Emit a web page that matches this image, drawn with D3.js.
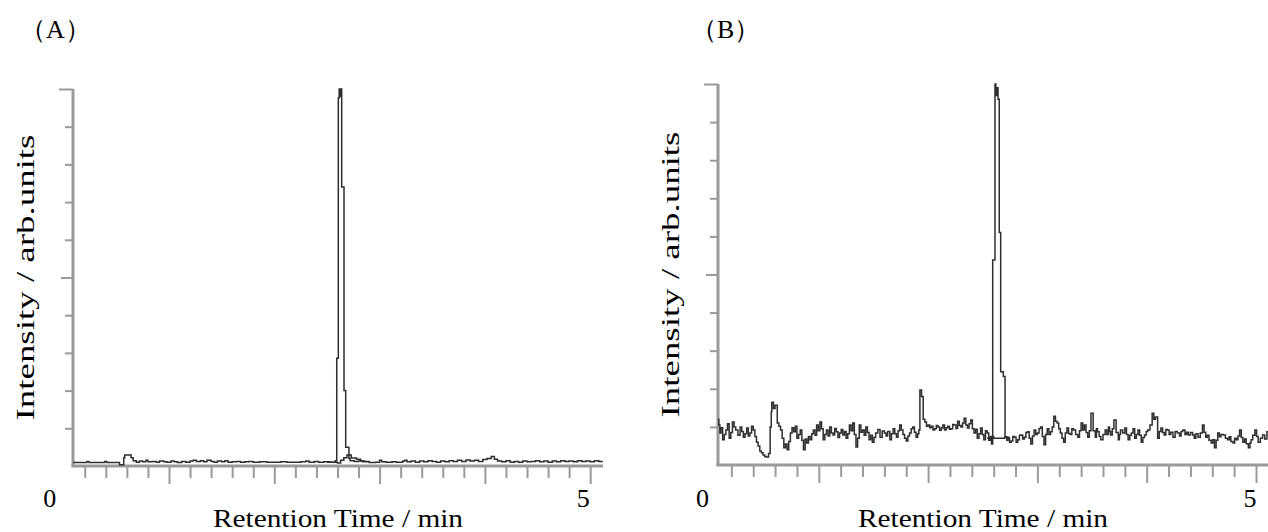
<!DOCTYPE html>
<html>
<head>
<meta charset="utf-8">
<script src="https://cdn.jsdelivr.net/npm/d3@7"></script>
<style>
  body { margin: 0; background: #fff; }
  svg { display: block; }
</style>
</head>
<body>
<div id="chart"></div>
<script>
const panelNames = ["（A）", "（B）"];
const xTitle = "Retention Time / min";
const yTitle = "Intensity / arb.units";
const endLabels = ["0", "5"];

// panel A, main trace: [retention time (min), intensity]
const traceA = [
  [0.09,0.9],[0.20,0.9],[0.22,1.2],[0.24,0.9],[0.37,0.9],[0.39,1.2],[0.41,0.9],[0.52,0.9],
  [0.53,0.3],[0.56,0.3],[0.57,2.2],[0.58,2.9],[0.63,2.9],[0.64,2.2],[0.66,1.4],[0.69,1.0],
  [0.72,1.3],[0.75,1.1],[0.78,1.5],[0.80,1.1],[0.84,1.2],[0.88,1.0],[0.91,1.3],[0.95,1.1],
  [0.98,1.0],[1.02,1.3],[1.05,1.1],[1.08,0.9],[1.12,1.2],[1.16,1.0],[1.20,1.3],[1.23,1.5],
  [1.26,1.2],[1.30,1.4],[1.33,1.1],[1.36,1.5],[1.40,1.2],[1.43,1.0],[1.46,1.3],[1.50,1.1],
  [1.53,1.4],[1.56,1.0],[1.60,1.1],[1.64,1.2],[1.68,1.0],[1.72,1.1],[1.76,1.2],[1.80,1.0],
  [1.86,1.1],[1.93,1.0],[2.00,1.0],[2.06,1.1],[2.12,1.0],[2.18,1.0],[2.25,1.1],[2.30,1.3],
  [2.33,1.0],[2.38,1.2],[2.42,1.0],[2.47,1.1],[2.52,1.0],[2.57,1.0],[2.58,1.4],
  [2.593,28.6],[2.608,97.6],[2.616,100],[2.624,98],[2.632,100],[2.640,74],[2.662,20],
  [2.678,5],[2.709,2],[2.72,1.4],[2.76,1.2],[2.80,1.3],[2.84,1.1],[2.88,1.2],[2.90,0.9],
  [2.96,1.0],[3.00,1.5],[3.02,1.1],[3.06,1.0],[3.12,1.1],[3.16,1.0],[3.22,1.3],[3.24,1.5],
  [3.26,1.1],[3.30,1.3],[3.34,1.0],[3.38,1.3],[3.42,1.1],[3.46,1.4],[3.50,1.2],[3.54,1.0],
  [3.58,1.3],[3.62,1.1],[3.66,1.4],[3.70,1.2],[3.74,1.5],[3.78,1.2],[3.82,1.6],[3.86,1.3],
  [3.90,1.5],[3.94,1.2],[3.98,1.7],[4.02,2.0],[4.06,2.5],[4.09,1.8],[4.12,1.3],[4.16,1.1],
  [4.20,1.4],[4.24,1.0],[4.28,1.2],[4.32,1.0],[4.36,1.3],[4.40,1.1],[4.44,1.2],[4.48,1.4],
  [4.52,1.1],[4.56,1.3],[4.60,1.0],[4.64,1.3],[4.68,1.1],[4.72,1.4],[4.76,1.2],[4.80,1.3],
  [4.84,1.1],[4.88,1.4],[4.92,1.2],[4.96,1.3],[5.00,1.1],[5.04,1.4],[5.08,1.2],[5.12,1.2]
];

// panel A, second trace under the peak
const traceA2 = [
  [2.50,1.0],[2.58,1.0],[2.60,0.8],[2.63,1.5],[2.66,2.2],[2.69,2.9],[2.71,2.9],
  [2.73,2.1],[2.78,1.8],[2.82,1.3],[2.86,1.1]
];

// panel B, main trace
const traceB = [
  [0.07,12],[0.085,10.5],[0.095,8.4],[0.105,9.8],[0.12,6.6],[0.135,8],[0.15,9.2],[0.165,10.8],
  [0.18,7],[0.195,8.5],[0.21,11.3],[0.225,10],[0.24,9.2],[0.26,7.8],[0.28,10],[0.295,8.8],
  [0.31,7.3],[0.325,8.2],[0.34,9.7],[0.355,7.6],[0.37,8.4],[0.385,10.2],[0.40,9.2],[0.415,7.5],
  [0.43,6],[0.445,5],[0.46,3.7],[0.475,3.2],[0.49,2.6],[0.505,2.2],[0.52,2.1],[0.54,3],
  [0.555,10],[0.565,14],[0.57,16.5],[0.585,14.8],[0.60,15.7],[0.62,11],[0.635,10.2],[0.65,9.2],
  [0.665,7],[0.68,4.5],[0.695,5.5],[0.71,4],[0.725,6.2],[0.74,8.4],[0.755,9.8],[0.77,8.7],
  [0.785,10.2],[0.80,7],[0.815,8],[0.83,9.2],[0.845,6.5],[0.86,4],[0.875,6.8],[0.89,5.8],
  [0.905,7.5],[0.92,6.6],[0.935,8.2],[0.95,9.2],[0.965,7.8],[0.98,10.5],[0.995,9],[1.01,11.3],
  [1.025,9.5],[1.04,6.6],[1.055,8],[1.07,9.2],[1.085,7.6],[1.10,10],[1.115,8.4],[1.13,7.9],
  [1.145,9.6],[1.16,8.7],[1.175,7.2],[1.19,8.4],[1.205,9.3],[1.22,7.9],[1.235,8.8],[1.25,7],
  [1.265,8.2],[1.28,10.5],[1.295,9],[1.31,11],[1.325,8],[1.34,4.7],[1.355,7],[1.37,10.5],
  [1.385,8.6],[1.40,9.2],[1.415,7.8],[1.43,10],[1.445,8.5],[1.46,6.6],[1.475,7.8],[1.49,6],
  [1.505,7.2],[1.52,8.4],[1.54,9.3],[1.56,7.3],[1.58,8.9],[1.60,8.4],[1.615,7.6],[1.63,8.8],
  [1.65,6.6],[1.665,8.2],[1.68,9.5],[1.695,8.2],[1.71,7.3],[1.725,9],[1.74,10.5],[1.755,9.2],
  [1.77,8],[1.785,7],[1.80,6.3],[1.815,7.6],[1.83,8.4],[1.845,9.5],[1.86,10],[1.875,8.6],
  [1.89,7.3],[1.905,8.2],[1.915,9.2],[1.925,19.7],[1.94,18],[1.955,12],[1.97,11.3],[1.985,10.2],
  [2.00,10.5],[2.015,9.8],[2.03,10.2],[2.045,9.2],[2.06,9.5],[2.075,10.4],[2.09,10],[2.105,9.1],
  [2.12,9.7],[2.135,10.5],[2.15,9.2],[2.165,9.8],[2.18,10.2],[2.195,9.4],[2.21,9.5],[2.225,10.6],
  [2.24,10.5],[2.255,9.6],[2.27,11.5],[2.285,10.4],[2.30,10],[2.315,11],[2.33,12.3],[2.345,10.5],
  [2.36,9.7],[2.375,10.8],[2.39,11.8],[2.405,9.5],[2.42,8.4],[2.435,9.4],[2.45,7],[2.465,8.2],
  [2.48,9.7],[2.495,8],[2.51,6.6],[2.525,9],[2.54,8.4],[2.555,6.5],[2.57,7.3],[2.58,5.5],
  [2.591,53.8],[2.612,100],[2.62,97],[2.63,99],[2.640,96],[2.651,61],[2.664,24.5],
  [2.688,23.2],[2.704,7.4],[2.72,6.5],[2.73,7],[2.745,6],[2.76,6.3],[2.775,7.5],[2.79,7.3],
  [2.805,6],[2.82,6.6],[2.835,7.8],[2.85,7.9],[2.865,6.8],[2.88,7.3],[2.895,8.5],[2.91,8.7],
  [2.925,7],[2.94,5.5],[2.955,7.6],[2.97,9.2],[2.985,8],[3.00,8.4],[3.015,9.6],[3.03,10],
  [3.045,7.5],[3.06,5.3],[3.075,8],[3.09,9.5],[3.105,8],[3.12,8.7],[3.135,10],[3.15,12.8],
  [3.165,11.5],[3.18,11],[3.195,9.5],[3.21,8.4],[3.225,7],[3.24,6],[3.255,8.4],[3.27,9.7],
  [3.285,8.3],[3.30,8],[3.315,9.5],[3.33,9.2],[3.35,8],[3.37,7.3],[3.385,9],[3.40,11],
  [3.415,9.2],[3.43,10.5],[3.445,8.5],[3.46,7.3],[3.475,9],[3.49,13.6],[3.51,9],[3.53,7.3],
  [3.54,9.5],[3.55,8.7],[3.565,7.5],[3.58,6.6],[3.60,8],[3.62,9.2],[3.635,8],[3.65,10],
  [3.66,8.8],[3.67,7.9],[3.685,9.5],[3.70,11.8],[3.72,8.5],[3.74,6.6],[3.75,8],[3.76,9.2],
  [3.78,8.4],[3.80,9.7],[3.815,8],[3.83,6.6],[3.845,7.8],[3.86,8.4],[3.875,9.5],[3.89,7],
  [3.905,8],[3.92,9.2],[3.935,7.8],[3.95,6],[3.965,7.2],[3.98,7.9],[3.995,8.8],[4.01,9.2],
  [4.03,10.5],[4.05,13.6],[4.065,12],[4.08,12.6],[4.10,7],[4.115,8.8],[4.13,9.7],[4.145,8.5],
  [4.16,7.9],[4.175,9.3],[4.19,9.2],[4.205,8],[4.22,8.6],[4.24,7.3],[4.26,8.8],[4.28,8.4],
  [4.30,7.6],[4.315,8.8],[4.33,9.2],[4.35,8],[4.365,8.6],[4.38,7.9],[4.40,8.5],[4.42,7.9],
  [4.435,7],[4.45,8.2],[4.47,7.3],[4.49,8.4],[4.51,10.5],[4.525,8.6],[4.54,7.3],[4.555,7.8],
  [4.57,6.5],[4.59,5.8],[4.605,6.6],[4.62,4.5],[4.635,6.5],[4.65,8.4],[4.665,7.4],[4.68,8],
  [4.70,7.9],[4.72,7],[4.74,6.6],[4.755,7.4],[4.77,6.2],[4.79,5.8],[4.805,7],[4.82,6.6],
  [4.835,7.6],[4.85,9.2],[4.865,7.2],[4.88,6],[4.895,6.8],[4.91,5.6],[4.93,4.5],[4.945,5.8],
  [4.955,6.6],[4.97,7.8],[4.99,9.2],[5.005,7.5],[5.02,6],[5.04,7],[5.06,7.9],[5.08,6.8],
  [5.10,8.7],[5.12,8.7]
];

// panel B, second trace under the peak
const traceB2 = [
  [2.54,7],[2.57,7.5],[2.60,7],[2.66,7],[2.70,7.3],[2.74,7]
];

let w = 1268;
let h = 532;
let font = "'Liberation Serif', 'Times New Roman', serif";
let axisColor = "#9a9a9a";
let lineColor = "#2e2e2e";

let svg = d3.select("#chart")
  .append("svg")
  .attr("width", w)
  .attr("height", h)
  .style("background-color", "#fff");

// minor x ticks every 0.2 min, major every minute
let xMinor = d3.range(1, 26).map(i => +(i * 0.2).toFixed(1)).filter(v => v % 1 !== 0);
let xMajor = [1, 2, 3, 4, 5];

function drawPanel(p) {
  let x = d3.scaleLinear().domain([0, 5]).range([p.x0, p.x5]);
  let y = d3.scaleLinear().domain([0, 100]).range([p.yBottom, p.yTop]);

  let g = svg.append("g").attr("class", "panel" + p.id);

  // clip so the traces stop at the axes
  svg.append("clipPath").attr("id", "clip" + p.id)
    .append("rect")
    .attr("x", p.axisX)
    .attr("y", p.yTop - 3)
    .attr("width", p.axisEnd - p.axisX)
    .attr("height", p.yBottom - p.yTop + 3);

  // x ticks
  let xMinorAxis = g.append("g")
    .attr("transform", `translate(0,${p.yBottom})`)
    .call(d3.axisBottom(x).tickValues(xMinor).tickSize(12).tickFormat(""));
  let xMajorAxis = g.append("g")
    .attr("transform", `translate(0,${p.yBottom})`)
    .call(d3.axisBottom(x).tickValues(xMajor).tickSize(18).tickFormat(""));

  // y ticks
  let yMinorAxis = g.append("g")
    .attr("transform", `translate(${p.axisX},0)`)
    .call(d3.axisLeft(y).tickValues([10, 20, 30, 40, 60, 70, 80, 90]).tickSize(8).tickFormat(""));
  let yMajorAxis = g.append("g")
    .attr("transform", `translate(${p.axisX},0)`)
    .call(d3.axisLeft(y).tickValues([50]).tickSize(12).tickFormat(""));
  let yTopAxis = g.append("g")
    .attr("transform", `translate(${p.axisX},0)`)
    .call(d3.axisLeft(y).tickValues([100]).tickSize(14).tickFormat(""));

  [xMinorAxis, xMajorAxis, yMinorAxis, yMajorAxis, yTopAxis].forEach(a => {
    a.select(".domain").remove();
    a.selectAll(".tick line").attr("stroke", axisColor).attr("stroke-width", 2);
  });

  // axis lines
  g.append("line")
    .attr("x1", p.axisX).attr("x2", p.axisX)
    .attr("y1", y(100)).attr("y2", p.yBottom + 1)
    .attr("stroke", axisColor).attr("stroke-width", 3);
  g.append("line")
    .attr("x1", p.axisX - 1.5).attr("x2", p.axisEnd)
    .attr("y1", p.yBottom).attr("y2", p.yBottom)
    .attr("stroke", axisColor).attr("stroke-width", 3);

  // traces
  let line = d3.line()
    .x(d => x(d[0]))
    .y(d => y(d[1]))
    .curve(d3.curveStepAfter);

  g.selectAll(".trace")
    .data([p.second, p.main])
    .enter()
    .append("path")
    .attr("class", "trace")
    .attr("clip-path", `url(#clip${p.id})`)
    .attr("fill", "none")
    .attr("stroke", lineColor)
    .attr("stroke-width", 1.5)
    .attr("d", line);

  // labels
  g.append("text")
    .attr("x", p.nameX)
    .attr("y", 38)
    .attr("font-family", font)
    .attr("font-size", 26)
    .attr("fill", "#000")
    .text(p.name);

  g.selectAll(".endlabel")
    .data(endLabels)
    .enter()
    .append("text")
    .attr("class", "endlabel")
    .attr("x", (d, i) => x(+d) + p.labelShift[i])
    .attr("y", 507)
    .attr("text-anchor", "middle")
    .attr("font-family", font)
    .attr("font-size", 26)
    .attr("fill", "#000")
    .text(d => d);

  g.append("text")
    .attr("x", p.xTitleX)
    .attr("y", 527)
    .attr("text-anchor", "middle")
    .attr("font-family", font)
    .attr("font-size", 25)
    .attr("textLength", 250)
    .attr("lengthAdjust", "spacingAndGlyphs")
    .attr("fill", "#000")
    .text(xTitle);

  g.append("text")
    .attr("transform", `translate(${p.yTitleX},${(p.yTop + p.yBottom) / 2}) rotate(-90)`)
    .attr("text-anchor", "middle")
    .attr("font-family", font)
    .attr("font-size", 25)
    .attr("textLength", 286)
    .attr("lengthAdjust", "spacingAndGlyphs")
    .attr("fill", "#000")
    .text(yTitle);
}

drawPanel({
  id: "A", name: panelNames[0], main: traceA, second: traceA2,
  x0: 63.7, x5: 590.2, axisX: 73, axisEnd: 603,
  yTop: 89, yBottom: 466,
  nameX: 20, labelShift: [-14, -7], xTitleX: 338, yTitleX: 34
});

drawPanel({
  id: "B", name: panelNames[1], main: traceB, second: traceB2,
  x0: 709.5, x5: 1256, axisX: 718, axisEnd: 1268,
  yTop: 84, yBottom: 465,
  nameX: 691, labelShift: [-7, -6], xTitleX: 983, yTitleX: 679
});
</script>
</body>
</html>
